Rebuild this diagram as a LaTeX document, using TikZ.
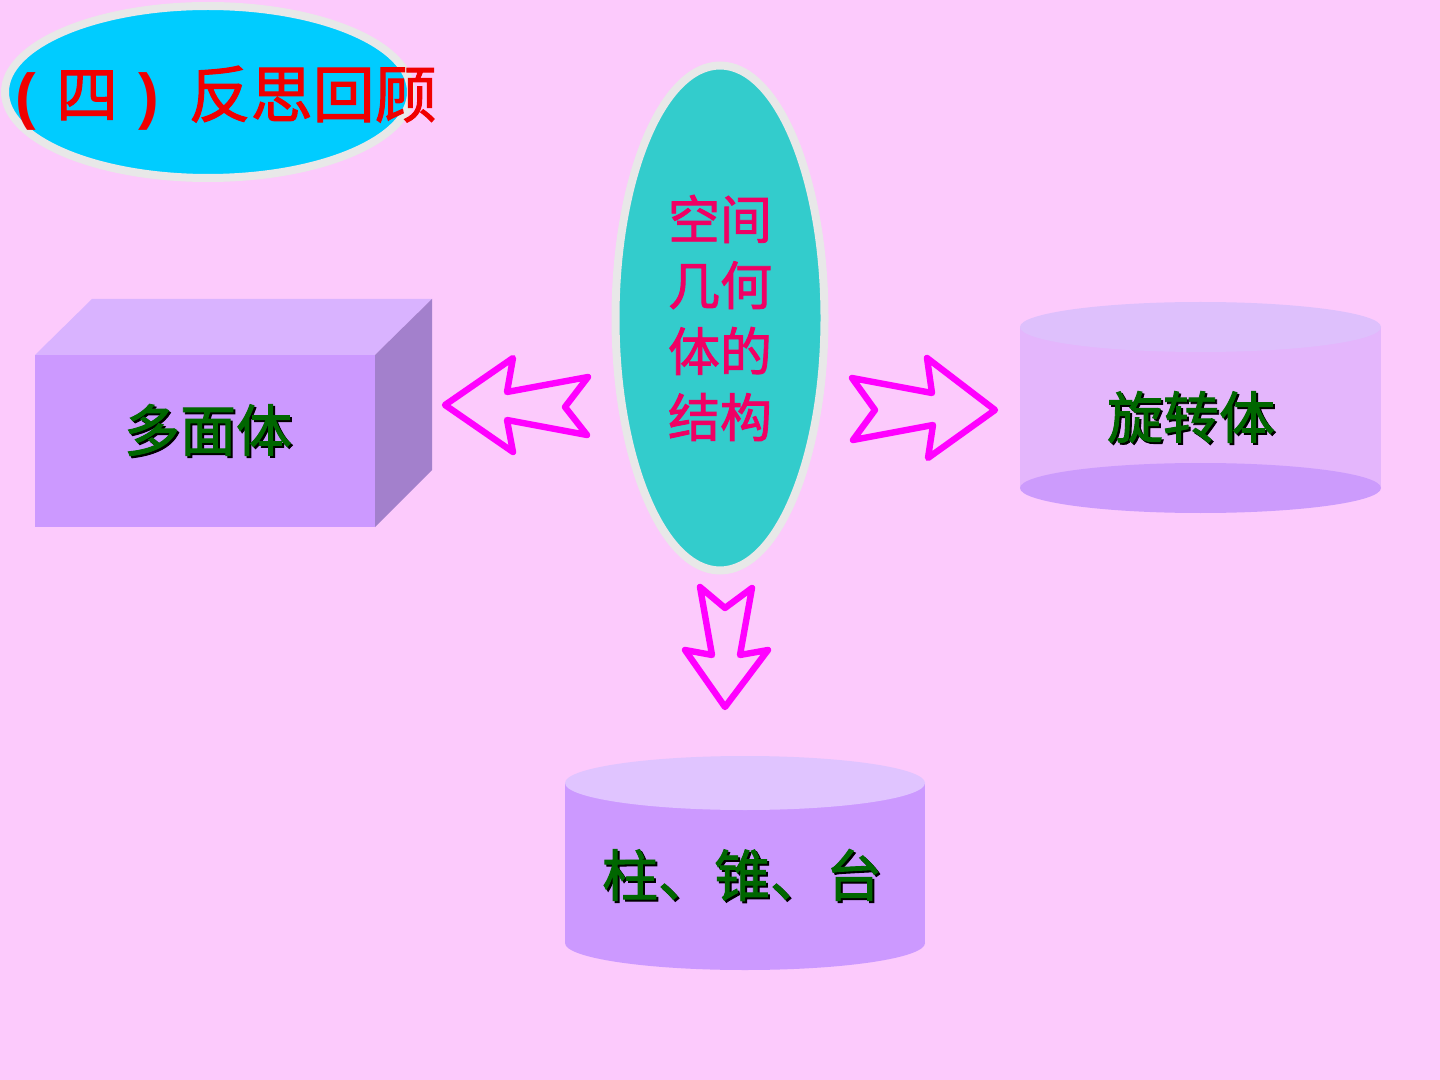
\documentclass[tikz,border=0pt]{standalone}
\usepackage{fontspec}
\setmainfont{Noto Sans CJK SC}
\newfontfamily\parenfont{Liberation Sans}
\newfontfamily\heavycjk[FakeBold=1.6]{Noto Sans CJK SC}
\usetikzlibrary{shapes.geometric,positioning}

\definecolor{pagebg}{RGB}{252,202,252}
\definecolor{ringgrey}{RGB}{232,232,232}
\definecolor{titlecyan}{RGB}{0,204,255}
\definecolor{titlered}{RGB}{240,0,0}
\definecolor{coreteal}{RGB}{51,204,204}
\definecolor{corered}{RGB}{240,0,100}
\definecolor{boxfront}{RGB}{204,153,255}
\definecolor{boxtop}{RGB}{217,179,255}
\definecolor{boxside}{RGB}{163,128,204}
\definecolor{spinbody}{RGB}{228,182,252}
\definecolor{spintop}{RGB}{222,192,252}
\definecolor{spinbase}{RGB}{204,155,252}
\definecolor{drumbody}{RGB}{204,153,255}
\definecolor{drumtop}{RGB}{224,196,255}
\definecolor{leafgreen}{RGB}{0,102,0}
\definecolor{arrowpink}{RGB}{255,0,255}

% label with a dark drop shadow
\newcommand{\embossed}[3]{%
  \node[shadelbl] at ([shift={(2,2)}]#2) {#3};
  \node[solidlbl] (#1) at (#2) {#3};}

\begin{document}
\begin{tikzpicture}[x=0.5pt, y=-0.5pt,
    every node/.style={inner sep=0pt},
    ovalring/.style={ellipse, draw=ringgrey, line width=4pt},
    solidlbl/.style={font=\heavycjk\fontsize{28}{32}\selectfont, text=leafgreen},
    shadelbl/.style={font=\heavycjk\fontsize{28}{32}\selectfont, text=black},
    hollow/.style={draw=arrowpink, line width=3.2pt, line join=round}
]
\fill[pagebg] (0,0) rectangle (1440,1080);
\useasboundingbox (0,0) rectangle (1440,1080);

% title
\node[ovalring, fill=titlecyan, minimum width=203pt, minimum height=86pt] (title) at (208,92) {};
\node[font=\heavycjk\fontsize{31}{34}\selectfont, text=titlered, anchor=west] (titletext) at (15,98)
  {{\parenfont\bfseries (}\hspace{10pt}四\hspace{10pt}{\parenfont\bfseries )}\hspace{15pt}反思回顾};

% centre
\node[ovalring, fill=coreteal, minimum width=104.5pt, minimum height=252.5pt,
      text=corered, font=\heavycjk\fontsize{26}{33}\selectfont, align=center] (core) at (720,318)
  {空间\\几何\\体的\\结构};

% polyhedron box
\fill[boxfront] (35,355) rectangle (375,527);
\fill[boxtop] (35,355) -- (92,299) -- (432,299) -- (375,355) -- cycle;
\fill[boxside] (375,355) -- (432,299) -- (432,470) -- (375,527) -- cycle;
\embossed{poly}{208,430}{多面体}

% solid of revolution
\fill[spinbody] (1020,327) rectangle (1381,488);
\fill[spinbase] (1200.5,488) ellipse[x radius=180.5, y radius=25];
\fill[spintop] (1200.5,327) ellipse[x radius=180.5, y radius=25];
\embossed{spin}{1191,417}{旋转体}

% prism, pyramid, frustum
\fill[drumbody] (565,783) rectangle (925,943);
\fill[drumbody] (745,943) ellipse[x radius=180, y radius=27];
\fill[drumtop] (745,783) ellipse[x radius=180, y radius=27];
\embossed{drum}{742,875}{柱、锥、台}

% hollow arrows
\draw[hollow] (445,405) -- (513,358) -- (507,392) -- (588,377) -- (565,407)
  -- (587,435) -- (507,420) -- (513,452) -- cycle;
\draw[hollow] (995,410) -- (927,358) -- (932,393) -- (852,378) -- (875,410)
  -- (853,440) -- (933,425) -- (928,458) -- cycle;
\draw[hollow] (725,707) -- (685,650) -- (712,655) -- (700,587) -- (725,608)
  -- (752,588) -- (740,655) -- (768,650) -- cycle;
\end{tikzpicture}
\end{document}
